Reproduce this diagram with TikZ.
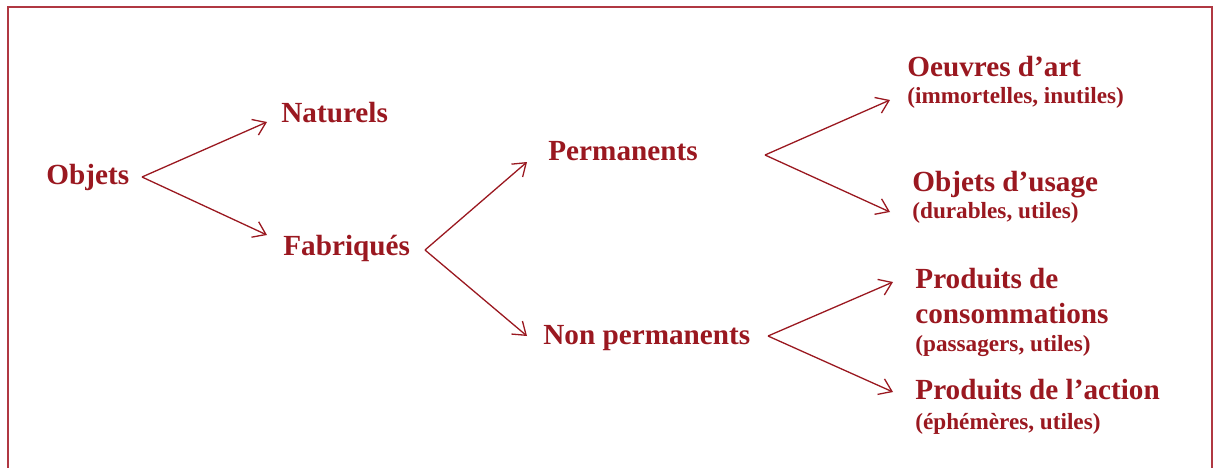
\documentclass[tikz,border=0pt]{standalone}
\usepackage{fontspec}
\setmainfont{Liberation Serif}
\usetikzlibrary{arrows.meta}
\definecolor{txtred}{HTML}{9A1820}
\definecolor{framered}{HTML}{B03842}
\tikzset{
  main/.style={anchor=base west, inner sep=0pt, text=txtred, font=\bfseries\fontsize{14.6}{18}\selectfont},
  sub/.style={anchor=base west, inner sep=0pt, text=txtred, font=\bfseries\fontsize{11.6}{14}\selectfont},
  arr/.style={draw=txtred, line width=0.65pt, -{Straight Barb[length=6pt,width=8.5pt]}},
}
\begin{document}
\begin{tikzpicture}[x=0.5pt,y=-0.5pt]
\useasboundingbox (0,0) rectangle (1220,467);
\clip (0,0) rectangle (1220,467);
\draw[framered, line width=1pt] (7.5,480) -- (7.5,6.5) -- (1212,6.5) -- (1212,480);

\node[main] (objets) at (46,184) {Objets};
\node[main] (naturels) at (281,122) {Naturels};
\node[main] (fabriques) at (283,255) {Fabriqués};
\node[main] (perm) at (548,160) {Permanents};
\node[main] (nonperm) at (543,344) {Non permanents};

\node[main] (oeuvres) at (907,76) {Oeuvres d’art};
\node[sub] (oeuvresb) at (907,103) {(immortelles, inutiles)};
\node[main] (usage) at (912,191) {Objets d’usage};
\node[sub] (usageb) at (912,218) {(durables, utiles)};
\node[main] (prod1) at (915,288) {Produits de};
\node[main] (prod2) at (915,323) {consommations};
\node[sub] (prodb) at (915,351) {(passagers, utiles)};
\node[main] (action) at (915,399) {Produits de l’action};
\node[sub] (actionb) at (915,429) {(éphémères, utiles)};

\coordinate (s1) at (142,177);
\coordinate (e1a) at (267,122);
\coordinate (e1b) at (267,235);
\coordinate (s2) at (425,250);
\coordinate (e2a) at (527,162);
\coordinate (e2b) at (527,336);
\coordinate (s3) at (765,155);
\coordinate (e3a) at (890,100);
\coordinate (e3b) at (890,212);
\coordinate (s4) at (768,336);
\coordinate (e4a) at (893,282);
\coordinate (e4b) at (893,392);

\draw[arr] (s1) -- (e1a);
\draw[arr] (s1) -- (e1b);
\draw[arr] (s2) -- (e2a);
\draw[arr] (s2) -- (e2b);
\draw[arr] (s3) -- (e3a);
\draw[arr] (s3) -- (e3b);
\draw[arr] (s4) -- (e4a);
\draw[arr] (s4) -- (e4b);
\end{tikzpicture}
\end{document}
